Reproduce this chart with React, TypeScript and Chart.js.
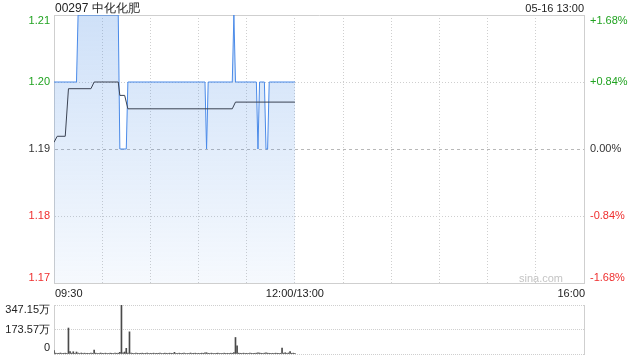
import React, { useEffect, useRef } from "react";
import { Chart, registerables } from "chart.js";

Chart.register(...registerables);

const TITLE = "00297 中化化肥";
const STAMP = "05-16 13:00";
const WATERMARK = "sina.com";
const PREV_CLOSE = 1.19;
const PRICE_MIN = 1.17;
const PRICE_MAX = 1.21;
const priceTicks = [1.21, 1.2, 1.19, 1.18, 1.17];
const priceTickLabels = ["1.21", "1.20", "1.19", "1.18", "1.17"];
const pctTickLabels = ["+1.68%", "+0.84%", "0.00%", "-0.84%", "-1.68%"];
const timeLabels = ["09:30", "12:00/13:00", "16:00"];
const timeLabelMinutes = [0, 150, 330];
const SESSION_MINUTES = 330;

// price (change points, minutes from 09:30)
const priceMinutes = [0, 14, 15, 40, 41, 45, 46, 94, 95, 96, 111, 112, 113, 126, 127, 128, 131, 132, 133, 134, 150];
const prices = [1.2, 1.2, 1.21, 1.21, 1.19, 1.19, 1.2, 1.2, 1.19, 1.2, 1.2, 1.21, 1.2, 1.2, 1.19, 1.2, 1.2, 1.19, 1.19, 1.2, 1.2];

// average price (change points)
const avgMinutes = [0, 2, 7, 9, 23, 25, 40, 41, 44, 46, 111, 113, 150];
const avgPrices = [1.191, 1.1919, 1.1919, 1.199, 1.199, 1.2, 1.2, 1.198, 1.198, 1.196, 1.196, 1.197, 1.197];

// volume per minute (万)
const volumes = [
  25, 6, 4, 5, 7, 3, 5, 6, 4, 184,
  18, 6, 16, 5, 14, 6, 4, 7, 5, 6,
  4, 5, 3, 6, 5, 28, 6, 4, 5, 7,
  5, 4, 6, 5, 3, 6, 5, 4, 7, 5,
  6, 12, 347.15, 8, 14, 40, 7, 157, 6, 5,
  4, 6, 5, 3, 5, 6, 4, 5, 7, 4,
  5, 3, 6, 4, 5, 5, 7, 4, 3, 6,
  5, 4, 6, 5, 4, 12, 5, 3, 6, 4,
  5, 6, 4, 3, 5, 7, 4, 5, 6, 3,
  5, 4, 6, 5, 8, 9, 5, 4, 6, 5,
  3, 5, 6, 4, 5, 3, 6, 4, 5, 4,
  6, 5, 10, 117, 57, 6, 5, 4, 6, 3,
  5, 4, 6, 5, 3, 5, 6, 8, 7, 5,
  4, 6, 8, 6, 5, 3, 5, 4, 6, 5,
  4, 5, 42, 6, 9, 5, 7, 18, 5, 6,
  4,
];
const volTicks = [0, 173.57, 347.15];
const volTickLabels = ["0", "173.57万", "347.15万"];

const FONT = '"Liberation Sans", Arial, Helvetica, sans-serif';
const GREEN = "#21a321";
const RED = "#ef2f2f";
const DARK = "#333333";
const GRID = "#cfcfcf";

function colorFor(v: number) {
  const d = Math.round((v - PREV_CLOSE) * 1000);
  if (d > 0) return GREEN;
  if (d < 0) return RED;
  return DARK;
}

const priceLabelsPlugin = {
  id: "priceLabels",
  afterDraw(chart: any) {
    const { ctx, chartArea: ca, scales } = chart;
    const y = scales.y;
    const x = scales.x;
    ctx.save();
    ctx.textBaseline = "alphabetic";
    ctx.fillStyle = "#222";
    ctx.font = `12px ${FONT}`;
    ctx.textAlign = "left";
    ctx.fillText(TITLE, ca.left + 1, 12);
    ctx.font = `11px ${FONT}`;
    ctx.textAlign = "right";
    ctx.fillText(STAMP, ca.right, 12);

    ctx.textBaseline = "middle";
    priceTicks.forEach((v, i) => {
      let py = y.getPixelForValue(v);
      py = Math.max(ca.top + 5.5, Math.min(ca.bottom - 5.5, py));
      ctx.fillStyle = colorFor(v);
      ctx.textAlign = "right";
      ctx.fillText(priceTickLabels[i], ca.left - 4, py);
      ctx.textAlign = "left";
      ctx.fillText(pctTickLabels[i], ca.right + 6, py);
    });

    ctx.fillStyle = "#222";
    const ly = ca.bottom + 11;
    timeLabels.forEach((t, i) => {
      const px = x.getPixelForValue(timeLabelMinutes[i]);
      ctx.textAlign = i === 0 ? "left" : i === timeLabels.length - 1 ? "right" : "center";
      ctx.fillText(t, px + (i === 0 ? 1 : i === timeLabels.length - 1 ? 1 : 0), ly);
    });

    ctx.fillStyle = "#c4c4c4";
    ctx.textAlign = "right";
    ctx.fillText(WATERMARK, ca.right - 21, ca.bottom - 4);
    ctx.restore();
  },
};

const volLabelsPlugin = {
  id: "volLabels",
  afterDraw(chart: any) {
    const { ctx, chartArea: ca, scales } = chart;
    const y = scales.y;
    ctx.save();
    ctx.font = `11px ${FONT}`;
    ctx.fillStyle = "#222";
    ctx.textAlign = "right";
    ctx.textBaseline = "middle";
    volTicks.forEach((v, i) => {
      let py = y.getPixelForValue(v);
      py = Math.max(ca.top + 5, Math.min(ca.bottom - 6, py));
      ctx.fillText(volTickLabels[i], ca.left - 4, py);
    });
    ctx.restore();
  },
};

export default function App() {
  const priceRef = useRef<HTMLCanvasElement | null>(null);
  const volRef = useRef<HTMLCanvasElement | null>(null);

  useEffect(() => {
    const priceCanvas = priceRef.current!;
    const volCanvas = volRef.current!;

    const priceChart = new Chart(priceCanvas, {
      type: "line",
      data: {
        datasets: [
          {
            label: "avg",
            data: avgMinutes.map((m, i) => ({ x: m, y: avgPrices[i] })),
            borderColor: "#3a4252",
            borderWidth: 1,
            pointRadius: 0,
            fill: false,
            tension: 0,
            order: 1,
          },
          {
            label: "price",
            data: priceMinutes.map((m, i) => ({ x: m, y: prices[i] })),
            borderColor: "#4a8ae8",
            borderWidth: 1,
            pointRadius: 0,
            tension: 0,
            fill: "start",
            order: 2,
            backgroundColor: (c: any) => {
              const ch = c.chart;
              const ca = ch.chartArea;
              if (!ca) return "rgba(77,143,230,0.15)";
              const g = ch.ctx.createLinearGradient(0, ca.top, 0, ca.bottom);
              g.addColorStop(0, "rgba(77,143,230,0.27)");
              g.addColorStop(1, "rgba(77,143,230,0.05)");
              return g;
            },
          },
        ],
      },
      options: {
        responsive: false,
        animation: false,
        events: [],
        layout: { padding: { left: 54, right: 56, top: 15, bottom: 17 } },
        plugins: {
          legend: { display: false },
          tooltip: { enabled: false },
          title: { display: false },
        },
        scales: {
          x: {
            type: "linear",
            min: 0,
            max: SESSION_MINUTES,
            ticks: { display: false, stepSize: 30 },
            grid: {
              drawTicks: false,
              color: GRID,
              lineWidth: 1,
            },
            border: {
              display: true,
              color: GRID,
              dash: (c: any) => {
                const v = c.tick ? c.tick.value : 0;
                return v === 0 || v === SESSION_MINUTES ? [] : [1, 2];
              },
            },
            afterFit: (s: any) => {
              s.height = 0;
            },
          },
          y: {
            type: "linear",
            position: "left",
            min: PRICE_MIN,
            max: PRICE_MAX,
            ticks: { display: false, stepSize: 0.01 },
            grid: {
              drawTicks: false,
              lineWidth: 1,
              color: (c: any) => {
                const v = c.tick ? Math.round(c.tick.value * 100) : 0;
                if (v === 119) return "#b8b8b8";
                return GRID;
              },
            },
            border: {
              display: true,
              color: GRID,
              dash: (c: any) => {
                const v = c.tick ? Math.round(c.tick.value * 100) : 0;
                if (v === 121 || v === 117) return [];
                if (v === 119) return [3, 3];
                return [1, 2];
              },
            },
            afterFit: (s: any) => {
              s.width = 0;
            },
          },
          y2: {
            type: "linear",
            position: "right",
            min: -1.68,
            max: 1.68,
            ticks: { display: false },
            grid: { display: false, drawTicks: false },
            border: { display: true, color: GRID },
            afterFit: (s: any) => {
              s.width = 0;
            },
          },
        },
      },
      plugins: [priceLabelsPlugin],
    } as any);

    const volChart = new Chart(volCanvas, {
      type: "bar",
      data: {
        datasets: [
          {
            label: "volume",
            data: volumes.map((v, i) => ({ x: i, y: v })),
            backgroundColor: "#4a4a4a",
            borderWidth: 0,
            barThickness: 1,
            grouped: false,
          },
        ],
      },
      options: {
        responsive: false,
        animation: false,
        events: [],
        layout: { padding: { left: 54, right: 56, top: 5, bottom: 6 } },
        plugins: {
          legend: { display: false },
          tooltip: { enabled: false },
        },
        scales: {
          x: {
            type: "linear",
            min: 0,
            max: SESSION_MINUTES,
            display: false,
            offset: false,
          },
          y: {
            type: "linear",
            position: "left",
            min: 0,
            max: 347.15,
            afterBuildTicks: (s: any) => {
              s.ticks = volTicks.map((v) => ({ value: v }));
            },
            ticks: { display: false },
            grid: { drawTicks: false, color: GRID, lineWidth: 1 },
            border: { display: true, color: GRID, dash: [1, 1] },
            afterFit: (s: any) => {
              s.width = 0;
            },
          },
          y2: {
            type: "linear",
            position: "right",
            min: 0,
            max: 1,
            ticks: { display: false },
            grid: { display: false, drawTicks: false },
            border: { display: true, color: GRID },
            afterFit: (s: any) => {
              s.width = 0;
            },
          },
        },
      },
      plugins: [volLabelsPlugin],
    } as any);

    return () => {
      priceChart.destroy();
      volChart.destroy();
    };
  }, []);

  return (
    <div
      style={{
        position: "fixed",
        left: 0,
        top: 0,
        width: 640,
        height: 360,
        background: "#ffffff",
      }}
    >
      <canvas
        ref={priceRef}
        width={640}
        height={300}
        style={{ position: "absolute", left: 0, top: 0, width: 640, height: 300 }}
      />
      <canvas
        ref={volRef}
        width={640}
        height={60}
        style={{ position: "absolute", left: 0, top: 300, width: 640, height: 60 }}
      />
    </div>
  );
}
